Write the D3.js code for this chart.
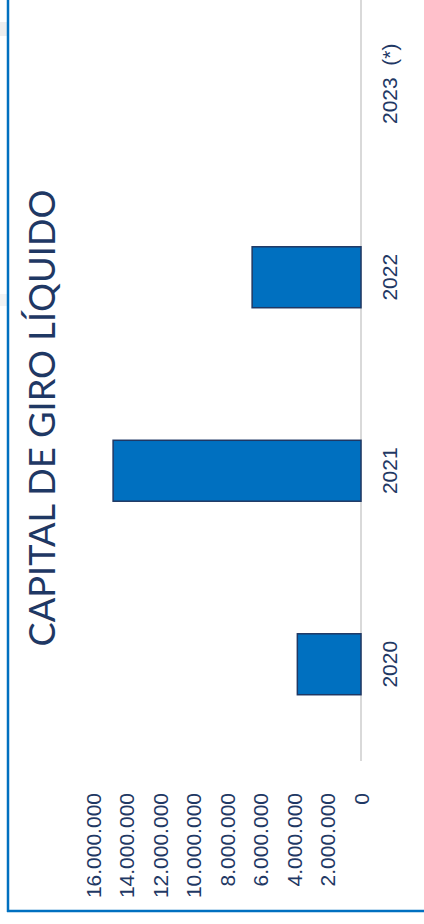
<!DOCTYPE html>
<html>
<head>
<meta charset="utf-8">
<script src="https://cdn.jsdelivr.net/npm/d3@7"></script>
<style>
  html, body { margin: 0; padding: 0; background: #fff; }
</style>
</head>
<body>
<div class="canvas"></div>
<script>
'use strict';
// data
var years = ['2020', '2021', '2022', '2023 (*)'];
var values = [3800000, 14800000, 6500000, 0];
var ticks = [0, 2000000, 4000000, 6000000, 8000000, 10000000, 12000000, 14000000, 16000000];
var title = 'CAPITAL DE GIRO LÍQUIDO';

var W = 424, H = 924;
var NAVY = '#1f3864', BLUE = '#0070c0';

var svg = d3.select('.canvas').append('svg')
    .attr('width', W)
    .attr('height', H);

// value axis runs right -> left, categories bottom -> top
var xScale = d3.scaleLinear()
    .domain([0, 16000000])
    .range([361, 93]);

var yScale = d3.scaleBand()
    .domain(years)
    .range([761, -13])
    .paddingInner(0.685)
    .paddingOuter(0.3425);

var fmt = d3.formatLocale({decimal: ',', thousands: '.', grouping: [3], currency: ['', '']}).format(',.0f');

// faint shadow left of frame
svg.append('rect').attr('x', 0).attr('y', 22).attr('width', 8).attr('height', 14).attr('fill', '#eeeeee');
svg.append('rect').attr('x', 0).attr('y', 294).attr('width', 8).attr('height', 12).attr('fill', '#f3f3f3');

// frame
svg.append('line').attr('x1', 8).attr('x2', 8).attr('y1', 0).attr('y2', 912)
    .attr('stroke', BLUE).attr('stroke-width', 2.5);
svg.append('line').attr('x1', 7).attr('x2', W).attr('y1', 911).attr('y2', 911)
    .attr('stroke', BLUE).attr('stroke-width', 2.5);

// baseline
svg.append('line')
    .attr('x1', xScale(0)).attr('x2', xScale(0))
    .attr('y1', 0).attr('y2', 761)
    .attr('stroke', '#d9d9d9').attr('stroke-width', 2);

// bars
svg.selectAll('rect.bar')
    .data(years)
    .enter().append('rect')
    .attr('class', 'bar')
    .attr('x', (d, i) => xScale(values[i]))
    .attr('y', d => yScale(d))
    .attr('width', (d, i) => xScale(0) - xScale(values[i]))
    .attr('height', yScale.bandwidth())
    .attr('fill', BLUE)
    .attr('stroke', NAVY)
    .attr('stroke-width', (d, i) => values[i] > 0 ? 1.5 : 0);

// value axis (labels rotated)
var xAxis = svg.append('g')
    .attr('transform', 'translate(0,770)')
    .call(d3.axisBottom(xScale).tickValues(ticks).tickFormat(fmt).tickSize(0));
xAxis.select('.domain').remove();
xAxis.selectAll('text')
    .attr('transform', 'rotate(-90)')
    .attr('x', -23)
    .attr('y', 0)
    .attr('dy', '0.35em')
    .attr('text-anchor', 'end')
    .attr('fill', NAVY)
    .attr('font-family', 'Liberation Sans, Arial, sans-serif')
    .attr('font-size', 21);

// category labels
svg.selectAll('text.cat')
    .data(years)
    .enter().append('text')
    .attr('class', 'cat')
    .attr('transform', d => 'translate(390,' + (yScale(d) + yScale.bandwidth() / 2) + ') rotate(-90)')
    .attr('dy', '0.35em')
    .attr('text-anchor', 'middle')
    .attr('fill', NAVY)
    .attr('font-family', 'Liberation Sans, Arial, sans-serif')
    .attr('font-size', 21)
    .style('white-space', 'pre')
    .text(d => d.replace(' ', '  '));

// title
var t = svg.append('text')
    .attr('transform', 'translate(42,418) rotate(-90)')
    .attr('dy', '0.36em')
    .attr('text-anchor', 'middle')
    .attr('fill', NAVY)
    .attr('font-family', 'Lato, sans-serif')
    .attr('font-size', 34)
    .text(title);
var len = t.node().getComputedTextLength();
t.attr('font-size', 34 * 457 / len);
</script>
</body>
</html>
